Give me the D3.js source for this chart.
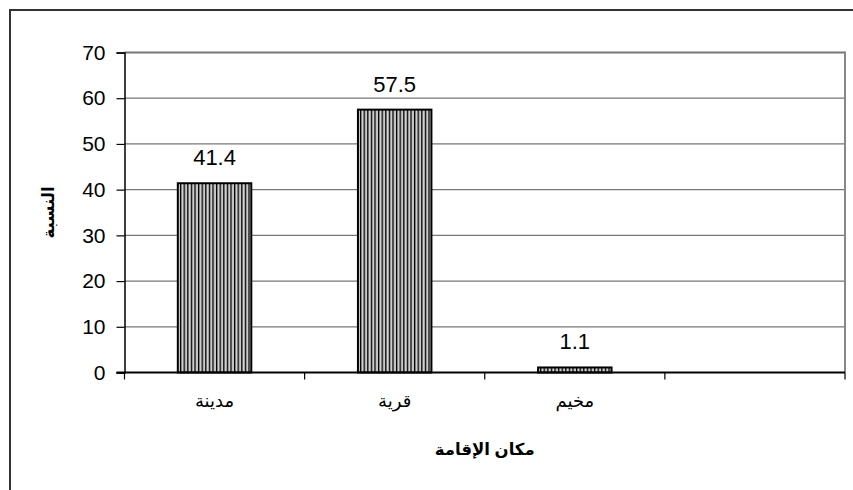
<!DOCTYPE html>
<html>
<head>
<meta charset="utf-8">
<script src="https://cdn.jsdelivr.net/npm/d3@7"></script>
<style>
html,body{margin:0;padding:0;background:#fff;}
svg{display:block;}
text{font-family:"Liberation Sans", Arial, "DejaVu Sans", sans-serif;}
</style>
</head>
<body>
<svg id="chart" width="853" height="490"></svg>
<script>
// Data
const categories = ["مدينة", "قرية", "مخيم", " "];
const values = [41.4, 57.5, 1.1, null];
const valueLabels = ["41.4", "57.5", "1.1", ""];
const yTicks = [0, 10, 20, 30, 40, 50, 60, 70];
const xTitle = "مكان الإقامة";
const yTitle = "النسبة";

const svg = d3.select("#chart");
const plot = {left: 124.5, right: 845, top: 52.5, bottom: 372.5};

// Outer frame (only top and left edges fall inside the picture)
svg.append("rect")
  .attr("x", 10).attr("y", 10)
  .attr("width", 900).attr("height", 600)
  .attr("fill", "#fff").attr("stroke", "#333").attr("stroke-width", 2);

const x = d3.scaleBand().domain(categories).range([plot.left, plot.right]).padding(0);
const y = d3.scaleLinear().domain([0, 70]).range([plot.bottom, plot.top]);

// stripe pattern
const defs = svg.append("defs");
const pat = defs.append("pattern").attr("id", "stripes")
  .attr("patternUnits", "userSpaceOnUse").attr("width", 3.6).attr("height", 4);
pat.append("rect").attr("x", 0).attr("y", 0).attr("width", 3.6).attr("height", 4).attr("fill", "#fff");
pat.append("rect").attr("x", 0).attr("y", 0).attr("width", 1.4).attr("height", 4).attr("fill", "#000");
pat.append("rect").attr("x", 2.3).attr("y", 0).attr("width", 0.9).attr("height", 4).attr("fill", "#9a9a9a");

// gridlines
svg.append("g").selectAll("line").data(yTicks.filter(d => d > 0)).join("line")
  .attr("x1", plot.left).attr("x2", plot.right)
  .attr("y1", d => y(d)).attr("y2", d => y(d))
  .attr("stroke", "#777").attr("stroke-width", d => d === 70 ? 2 : 1.2);
// right border
svg.append("line").attr("x1", plot.right).attr("x2", plot.right)
  .attr("y1", plot.top - 1).attr("y2", plot.bottom)
  .attr("stroke", "#888").attr("stroke-width", 2);

// bars
const barFrac = 0.408;
const bw = x.bandwidth() * barFrac;
const barData = categories.map((c, i) => ({c, v: values[i], l: valueLabels[i]})).filter(d => d.v != null);
svg.append("g").selectAll("rect").data(barData).join("rect")
  .attr("x", d => x(d.c) + (x.bandwidth() - bw) / 2)
  .attr("y", d => y(d.v))
  .attr("width", bw)
  .attr("height", d => y(0) - y(d.v))
  .attr("fill", "url(#stripes)")
  .attr("stroke", "#000").attr("stroke-width", 2);

// value labels
svg.append("g").selectAll("text").data(barData).join("text")
  .attr("x", d => x(d.c) + x.bandwidth() / 2)
  .attr("y", d => y(d.v) - 18)
  .attr("text-anchor", "middle")
  .attr("font-size", 22)
  .text(d => d.l);

// y axis
const yAxis = d3.axisLeft(y).tickValues(yTicks).tickSize(8).tickPadding(11);
const gy = svg.append("g").attr("transform", `translate(${plot.left},0)`).call(yAxis);
gy.select(".domain").attr("stroke", "#000").attr("stroke-width", 1.5);
gy.selectAll(".tick line").attr("stroke", "#000").attr("stroke-width", 1.2);
gy.selectAll(".tick text").attr("font-size", 21).attr("font-family", "Liberation Sans, Arial, sans-serif").attr("fill", "#000");

// x axis
const xAxis = d3.axisBottom(x).tickSize(0).tickPadding(22);
const gx = svg.append("g").attr("transform", `translate(0,${plot.bottom})`).call(xAxis);
gx.select(".domain").remove();
gx.selectAll(".tick text").attr("font-size", 18).attr("font-family", "Liberation Sans, DejaVu Sans, sans-serif").attr("fill", "#000");
// baseline with left extension
svg.append("line").attr("x1", plot.left - 8).attr("x2", plot.right)
  .attr("y1", plot.bottom).attr("y2", plot.bottom)
  .attr("stroke", "#000").attr("stroke-width", 2);
// category boundary ticks
const bounds = categories.map(c => x(c)).concat([plot.right]);
svg.append("g").selectAll("line").data(bounds).join("line")
  .attr("x1", d => d).attr("x2", d => d)
  .attr("y1", plot.bottom).attr("y2", plot.bottom + 7)
  .attr("stroke", "#000").attr("stroke-width", 1.2);

// titles
svg.append("text").attr("x", (plot.left + plot.right) / 2).attr("y", 455)
  .attr("text-anchor", "middle").attr("font-weight", "bold").attr("font-size", 16.5)
  .attr("font-family", "Liberation Sans, DejaVu Sans, sans-serif")
  .text(xTitle);
svg.append("text")
  .attr("transform", `translate(54,${(plot.top + plot.bottom) / 2}) rotate(-90)`)
  .attr("text-anchor", "middle").attr("font-weight", "bold").attr("font-size", 16.5)
  .attr("font-family", "Liberation Sans, DejaVu Sans, sans-serif")
  .text(yTitle);
</script>
</body>
</html>
